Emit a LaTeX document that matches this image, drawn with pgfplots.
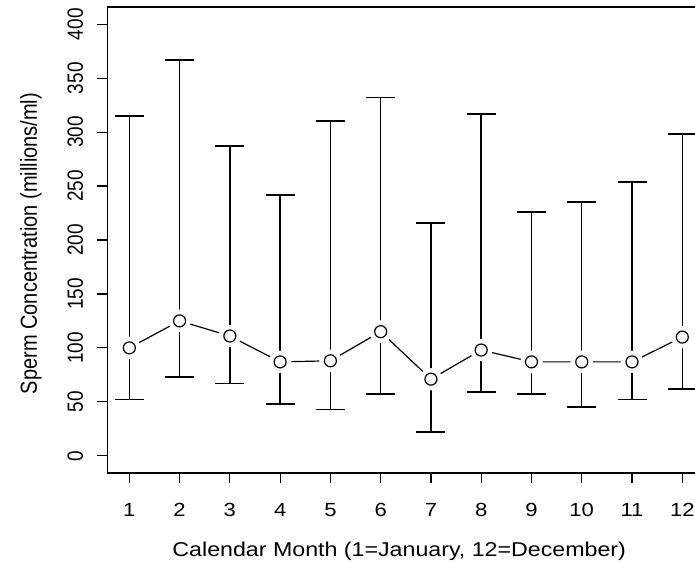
\documentclass[border=0pt]{standalone}
\usepackage{fontspec}
\setmainfont{Liberation Sans}[FakeStretch=1.16]
\newfontfamily\rotfont{Liberation Sans}[FakeStretch=0.862]
\usepackage{pgfplots}
\usepackage{pgfplotstable}
\pgfplotsset{compat=1.18}

% month, mean, lower and upper end of the bar (millions/ml)
\pgfplotstableread{
month mean lo  hi
1     100  52  315
2     125  73  367
3     111  67  287
4     87   48  242
5     88   43  310
6     115  57  332
7     71   22  216
8     98   59  317
9     87   57  226
10    87   45  235
11    87   52  254
12    110  62  298
}\spermdata

\begin{document}
\begin{tikzpicture}
\useasboundingbox (-107.2pt,-91pt) rectangle (587.8pt,473pt);
\begin{axis}[
    at={(0,0)}, anchor=south west,
    scale only axis,
    width=597.2pt, height=466pt,
    xmin=0.56, xmax=12.44,
    ymin=-16, ymax=416,
    xtick={1,...,12},
    ytick={0,50,...,400},
    tick align=outside,
    xtick pos=left, ytick pos=left,
    major tick length=10pt,
    axis line style={black, line width=1.2pt},
    every tick/.style={black, line width=1.2pt},
    /pgf/number format/assume math mode=true,
    xticklabel style={font=\fontsize{19}{22}\selectfont, anchor=center, yshift=-26.7pt},
    yticklabel style={font=\rotfont\fontsize{22}{26}\selectfont, rotate=90, anchor=south, inner sep=0pt, yshift=14pt},
    xlabel={Calendar Month (1=January, 12=December)},
    ylabel={Sperm Concentration (millions/ml)},
    every axis x label/.style={at={(axis description cs:0.489,0)}, anchor=center, yshift=-78.7pt, font=\fontsize{20}{24}\selectfont},
    every axis y label/.style={at={(axis description cs:0,0.4925)}, rotate=90, anchor=center, yshift=76.2pt, font=\rotfont\fontsize{23.2}{28}\selectfont},
]

% vertical bars
\addplot[only marks, mark=none,
    error bars/.cd, y dir=both, y explicit, error mark=none,
    error bar style={black, line width=1.5pt}]
    table[x=month, y=mean,
          y error plus expr=\thisrow{hi}-\thisrow{mean},
          y error minus expr=\thisrow{mean}-\thisrow{lo}] {\spermdata};

% line through the means
\addplot[black, line width=1.2pt, mark=none] table[x=month, y=mean] {\spermdata};

% gap round each point
\addplot[only marks, mark=*, mark size=11pt, mark options={draw=white, fill=white}]
    table[x=month, y=mean] {\spermdata};

% means
\addplot[only marks, mark=o, mark size=6pt, mark options={black, line width=1.2pt, fill=white}]
    table[x=month, y=mean] {\spermdata};

% caps
\addplot[only marks, mark=-, mark size=14.5pt, mark options={black, line width=1.7pt}]
    table[x=month, y=hi] {\spermdata};
\addplot[only marks, mark=-, mark size=14.5pt, mark options={black, line width=1.7pt}]
    table[x=month, y=lo] {\spermdata};

\end{axis}
\end{tikzpicture}
\end{document}
